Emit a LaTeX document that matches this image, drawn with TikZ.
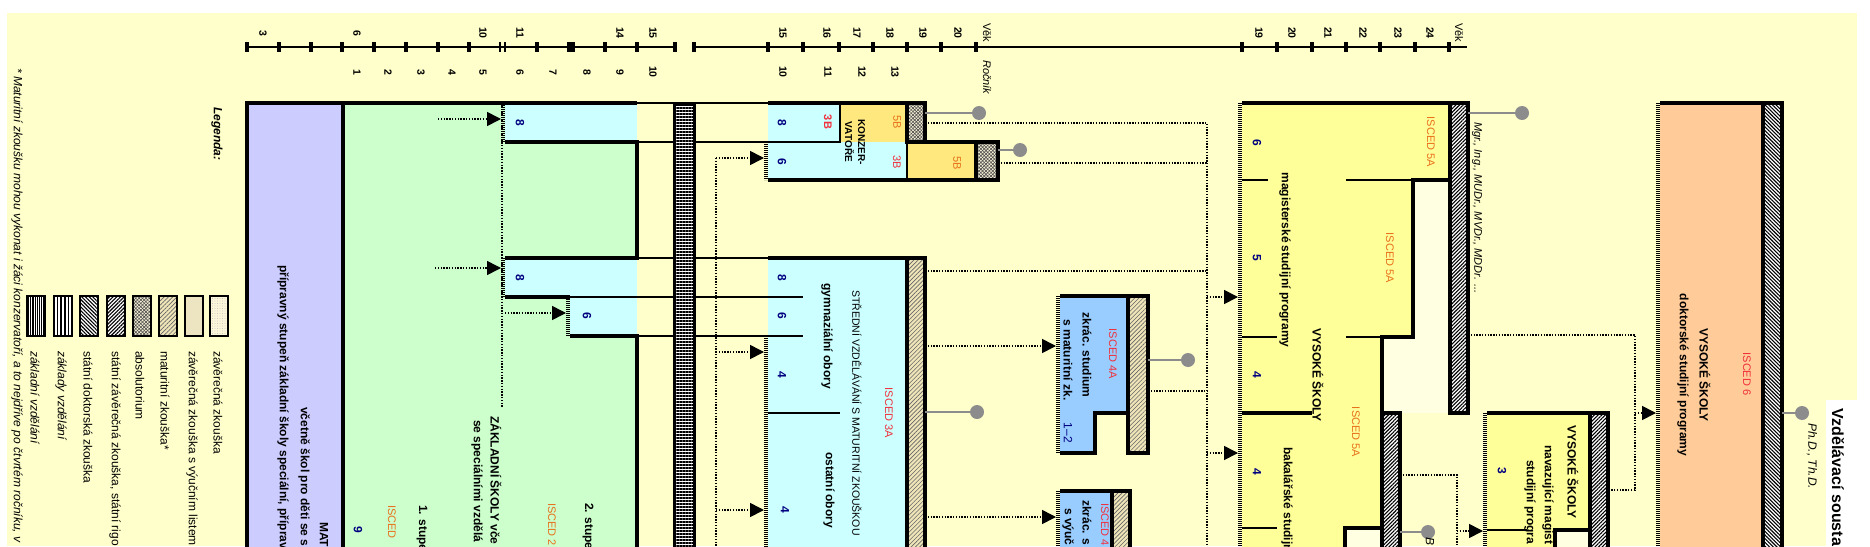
\documentclass[tikz,border=0pt]{standalone}
\usepackage{fontspec}
\setmainfont{Liberation Sans}
\usepackage{xcolor}
\definecolor{cBg}{HTML}{FFFFCC}
\definecolor{cMS}{HTML}{CCCCFF}
\definecolor{cZS}{HTML}{CCFFCC}
\definecolor{cSS}{HTML}{CCFFFF}
\definecolor{cVOS}{HTML}{99CCFF}
\definecolor{cKonz}{HTML}{FFE97F}
\definecolor{cVS}{HTML}{FFFF99}
\definecolor{cVSpale}{HTML}{FFFFE2}
\definecolor{cDok}{HTML}{FFCC99}
\definecolor{cPin}{HTML}{8C8C8C}
\definecolor{cNum}{HTML}{000080}
\definecolor{cRed}{HTML}{F0303C}
\definecolor{cOrange}{HTML}{E8701A}
\definecolor{cMatura}{HTML}{EFE5B8}
\definecolor{cZav}{HTML}{FBF5DA}
\definecolor{cVyuc}{HTML}{F6EDC6}
\usepackage{tikz}
\usetikzlibrary{arrows.meta,patterns.meta}
\tikzset{
  box-rule/.style={line width=3.4pt},
  lane-rule/.style={line width=1.1pt},
  comb-edge/.style={line width=3.2pt,dash pattern=on 0.6pt off 1.4pt},
  flow/.style={line width=1.6pt,dash pattern=on 1.4pt off 1.4pt},
  flow-arrow/.style={flow,-{Triangle[length=14pt,width=14pt]}},
  pin-line/.style={draw=cPin,line width=2.6pt},
  pin-dot/.style={circle,fill=cPin,minimum size=14pt,inner sep=0pt},
  framed/.style={postaction={draw,box-rule}},
  swatch-frame/.style={postaction={draw,line width=2pt}},
  hatch-zav/.style={fill=cZav,postaction={pattern color=black!30,pattern={Dots[distance=2.5pt,radius=0.35pt]}}},
  hatch-vyuc/.style={fill=cVyuc,postaction={pattern color=black!45,pattern={Dots[distance=2pt,radius=0.45pt]}}},
  hatch-matura/.style={fill=cMatura,postaction={pattern color=black!60,pattern={Lines[angle=45,distance=3pt,line width=0.6pt]}}},
  hatch-absol/.style={fill=cMatura!60,
    postaction={pattern color=black!70,pattern={Lines[angle=45,distance=2.4pt,line width=0.6pt]}},
    postaction={pattern color=black!70,pattern={Lines[angle=-45,distance=2.4pt,line width=0.6pt]}}},
  hatch-state/.style={fill=white,postaction={pattern color=black,pattern={Lines[angle=45,distance=2.6pt,line width=1.1pt]}}},
  hatch-doc/.style={fill=white,postaction={pattern color=black,pattern={Lines[angle=-45,distance=2.6pt,line width=1.1pt]}}},
  hatch-zaklady/.style={fill=white,postaction={pattern color=black,pattern={Lines[angle=90,distance=3.6pt,line width=1.5pt]}}},
  hatch-zakladni/.style={fill=white,postaction={pattern color=black,pattern={Lines[angle=90,distance=2.2pt,line width=1.1pt]}}},
  hatch-bar/.style={fill=white,postaction={pattern color=black,pattern={Lines[angle=0,distance=3pt,line width=1.5pt]}}},
  v-text/.style={rotate=-90,inner sep=0pt},
  v-bold/.style={v-text,font=\fontsize{12}{14}\selectfont\bfseries},
  v-start/.style={v-bold,anchor=west},
  v-num/.style={v-bold,text=cNum},
  v-isced/.style={v-text,font=\fontsize{11}{13}\selectfont},
  v-note/.style={v-text,anchor=west,font=\fontsize{12}{14}\selectfont\itshape},
  v-legend/.style={v-text,anchor=west,font=\fontsize{12}{14}\selectfont},
  axis-num/.style={v-text,font=\fontsize{10.5}{12}\selectfont\bfseries},
  axis-word/.style={v-text,anchor=west,font=\fontsize{11}{13}\selectfont},
  axis-tick/.style={line width=3.6pt},
}

\begin{document}
\begin{tikzpicture}[x=1pt,y=-1pt]
  \useasboundingbox (0,0) rectangle (1870,546);
  \clip (0,0) rectangle (1870,546);
  \fill[white] (0,0) rectangle (1870,546);
  \fill[cBg] (7,13) rectangle (1857,546);
  \fill[white] (1826,400) rectangle (1870,546);

  % --- fills ---
  \fill[cMS] (247,103) rectangle (343,560);
  \fill[cZS] (343,103) rectangle (637,560);
  \fill[cSS] (505,103) rectangle (637,142);
  \fill[cSS] (505,258) rectangle (637,297);
  \fill[cSS] (570,297) rectangle (637,336);
  \fill[cSS] (768,103) rectangle (840,142);
  \fill[cKonz] (840,103) rectangle (907,142);
  \fill[cSS] (768,142) rectangle (907,180);
  \fill[cKonz] (907,142) rectangle (976,180);
  \fill[cSS] (768,258) rectangle (907,560);
  \fill[cVOS] (1060,296) -- (1128,296) -- (1128,413) -- (1095,413) -- (1095,453) -- (1060,453) -- cycle;
  \fill[cVOS] (1060,491) rectangle (1112,560);
  \fill[cVSpale] (1242,103) rectangle (1450,413);
  \fill[cVS] (1242,103) -- (1450,103) -- (1450,180) -- (1413,180) -- (1413,337) -- (1382,337)
    -- (1382,528) -- (1345,528) -- (1345,560) -- (1242,560) -- cycle;
  \fill[cVSpale] (1345,528) rectangle (1382,560);
  \fill[cVS] (1487,413) rectangle (1590,560);
  \fill[cVSpale] (1555,530) rectangle (1590,560);
  \fill[cDok] (1660,103) rectangle (1763,560);

  % --- lane rules ---
  \draw[flow] (502,103) -- (502,407);
  \foreach \y in {103,142,258} \draw[lane-rule] (637,\y) -- (768,\y);
  \draw[lane-rule] (570,297) -- (803,297);
  \draw[lane-rule] (637,336) -- (803,336);
  \draw[lane-rule] (768,413) -- (840,413);
  \draw[lane-rule] (768,142) -- (840,142) -- (840,103) (907,142) -- (907,180);
  \draw[lane-rule] (1242,180) -- (1268,180) (1346,180) -- (1413,180)
    (1242,337) -- (1277,337) (1346,337) -- (1382,337) (1242,528) -- (1277,528);
  \draw[lane-rule] (1487,530) -- (1527,530);

  % --- základní vzdělání bar ---
  \path[hatch-bar,postaction={draw,line width=3pt}] (674,104) rectangle (694,560);

  % --- hatched ends ---
  \path[hatch-absol,framed] (907,103) rectangle (925,142);
  \path[hatch-absol,framed] (976,142) rectangle (998,180);
  \path[hatch-matura,framed] (907,258) rectangle (925,560);
  \path[hatch-matura,framed] (1128,296) rectangle (1148,453);
  \path[hatch-matura,framed] (1112,491) rectangle (1130,560);
  \path[hatch-state,framed] (1450,103) rectangle (1468,413);
  \path[hatch-state,framed] (1382,413) rectangle (1400,560);
  \path[hatch-state,framed] (1590,413) rectangle (1608,560);
  \path[hatch-doc,framed] (1763,103) rectangle (1782,560);

  % --- box outlines ---
  \draw[box-rule] (247,560) -- (247,103) -- (637,103);
  \draw[box-rule] (343,103) -- (343,560);
  \draw[box-rule] (505,142) -- (637,142) -- (637,258) -- (505,258);
  \draw[box-rule] (505,297) -- (570,297);
  \draw[box-rule] (570,336) -- (637,336) -- (637,560);
  \draw[box-rule] (768,103) -- (925,103) -- (925,142) -- (998,142) -- (998,180) -- (768,180);
  \draw[box-rule] (768,258) -- (907,258);
  \draw[box-rule] (1060,296) -- (1128,296) (1128,413) -- (1095,413) -- (1095,453) -- (1060,453);
  \draw[box-rule] (1060,491) -- (1112,491);
  \draw[box-rule] (1242,103) -- (1450,103);
  \draw[box-rule] (1450,180) -- (1413,180) -- (1413,337) -- (1382,337) -- (1382,413);
  \draw[box-rule] (1242,413) -- (1312,413);
  \draw[box-rule] (1382,528) -- (1345,528) -- (1345,560);
  \draw[box-rule] (1487,413) -- (1590,413);
  \draw[box-rule] (1590,530) -- (1555,530) -- (1555,560);
  \draw[box-rule] (1660,103) -- (1763,103);

  % --- entry edges ---
  \draw[comb-edge] (503,103) -- (503,142);
  \draw[comb-edge] (503,258) -- (503,297);
  \draw[comb-edge] (568,297) -- (568,336);
  \draw[comb-edge] (766,142) -- (766,180);
  \draw[comb-edge] (766,336) -- (766,560);
  \draw[comb-edge] (1058,296) -- (1058,453);
  \draw[comb-edge] (1058,491) -- (1058,560);
  \draw[comb-edge] (1240,103) -- (1240,560);
  \draw[comb-edge] (1485,413) -- (1485,560);
  \draw[comb-edge] (1658,103) -- (1658,560);

  % --- transitions ---
  \coordinate (zs-a) at (438,119);  \coordinate (gymA-in) at (501,119);
  \coordinate (zs-b) at (435,268);  \coordinate (gymB-in) at (501,268);
  \coordinate (zs-c) at (505,313);  \coordinate (gymC-in) at (566,313);
  \draw[flow-arrow] (zs-a) -- (gymA-in);
  \draw[flow-arrow] (zs-b) -- (gymB-in);
  \draw[flow-arrow] (zs-c) -- (gymC-in);

  \coordinate (spine-top) at (716,158); \coordinate (spine-bot) at (716,560);
  \coordinate (konzB-in) at (764,158);
  \coordinate (spine-g) at (716,352); \coordinate (ssG-in) at (764,352);
  \coordinate (spine-o) at (716,510); \coordinate (ssO-in) at (764,510);
  \draw[flow] (spine-top) -- (spine-bot);
  \draw[flow-arrow] (spine-top) -- (konzB-in);
  \draw[flow-arrow] (spine-g) -- (ssG-in);
  \draw[flow-arrow] (spine-o) -- (ssO-in);

  \coordinate (konzA-out) at (925,123); \coordinate (col-a) at (1207,123);
  \coordinate (konzB-out) at (998,163); \coordinate (col-b) at (1207,163);
  \coordinate (ss-out) at (925,271);    \coordinate (col-c) at (1207,271);
  \coordinate (vosA-out) at (1148,391); \coordinate (col-d) at (1207,391);
  \coordinate (col-m) at (1207,297);    \coordinate (vsM-in) at (1238,297);
  \coordinate (col-bc) at (1207,453);   \coordinate (vsB-in) at (1238,453);
  \coordinate (col-bot) at (1207,560);
  \draw[flow] (konzA-out) -- (col-a) -- (col-bot);
  \draw[flow] (konzB-out) -- (col-b);
  \draw[flow] (ss-out) -- (col-c);
  \draw[flow] (vosA-out) -- (col-d);
  \draw[flow-arrow] (col-m) -- (vsM-in);
  \draw[flow-arrow] (col-bc) -- (vsB-in);

  \coordinate (ss-outA) at (925,346); \coordinate (vosA-in) at (1056,346);
  \coordinate (ss-outB) at (925,517); \coordinate (vosB-in) at (1056,517);
  \draw[flow-arrow] (ss-outA) -- (vosA-in);
  \draw[flow-arrow] (ss-outB) -- (vosB-in);

  \coordinate (vsM-out) at (1468,335); \coordinate (dk-a) at (1635,335);
  \coordinate (dk-b) at (1635,490);    \coordinate (nav-out) at (1608,490);
  \coordinate (dk-pt) at (1635,413);   \coordinate (dok-in) at (1656,413);
  \draw[flow] (vsM-out) -- (dk-a) -- (dk-b) -- (nav-out);
  \draw[flow-arrow] (dk-pt) -- (dok-in);

  \coordinate (vsB-out) at (1400,475); \coordinate (nv-a) at (1457,475);
  \coordinate (nv-bot) at (1457,560);  \coordinate (nv-pt) at (1457,531);
  \coordinate (nav-in) at (1483,531);
  \draw[flow] (vsB-out) -- (nv-a) -- (nv-bot);
  \draw[flow-arrow] (nv-pt) -- (nav-in);

  % --- graduation pins ---
  \coordinate (konzA-end) at (925,113);  \node[pin-dot] (pin-konzA) at (979,113) {};
  \coordinate (konzB-end) at (998,150);  \node[pin-dot] (pin-konzB) at (1020,150) {};
  \coordinate (ss-end) at (925,412);     \node[pin-dot] (pin-ss) at (977,412) {};
  \coordinate (vosA-end) at (1148,360);  \node[pin-dot] (pin-vosA) at (1188,360) {};
  \coordinate (vsM-end) at (1468,113);   \node[pin-dot] (pin-vsM) at (1522,113) {};
  \coordinate (vsB-end) at (1400,532);   \node[pin-dot] (pin-vsB) at (1428,532) {};
  \coordinate (dok-end) at (1782,413);   \node[pin-dot] (pin-dok) at (1802,413) {};
  \draw[pin-line] (konzA-end) -- (pin-konzA);
  \draw[pin-line] (konzB-end) -- (pin-konzB);
  \draw[pin-line] (ss-end) -- (pin-ss);
  \draw[pin-line] (vosA-end) -- (pin-vosA);
  \draw[pin-line] (vsM-end) -- (pin-vsM);
  \draw[pin-line] (vsB-end) -- (pin-vsB);
  \draw[pin-line] (dok-end) -- (pin-dok);

  % --- age / grade axis ---
  \draw[line width=1.2pt] (247,47) -- (675,47);
  \draw[line width=1.2pt] (694,47) -- (1467,47);
  \foreach \x in {247,279,311,342,374,406,438,469,537,605,637,675,694,768,803,839,873,907,941,976,
                  1242,1277,1312,1346,1380,1415,1449}
    \draw[axis-tick] (\x,42) -- (\x,52);
  \draw[line width=2pt] (499.5,42) -- (499.5,52) (504.5,42) -- (504.5,52);
  \draw[line width=8pt] (571,42) -- (571,52);
  \foreach \x/\n [count=\i] in {263/3,357/6,483/10,520/11,620/14,653/15,783/15,827/16,857/17,890/18,
                                923/19,958/20,1259/19,1292/20,1328/21,1363/22,1398/23,1430/24}
    \node[axis-num] (age-\i) at (\x,33) {\n};
  \foreach \x/\n [count=\i] in {357/1,388/2,421/3,452/4,483/5,520/6,553/7,587/8,620/9,653/10,
                                783/10,828/11,862/12,895/13}
    \node[axis-num] (grade-\i) at (\x,72) {\n};
  \node[axis-word] (vek-a) at (987,23) {Věk};
  \node[axis-word,font=\fontsize{11}{13}\selectfont\itshape] (rocnik) at (987,60) {Ročník};
  \node[axis-word] (vek-b) at (1459,23) {Věk};

  % --- mateřská a základní škola ---
  \node[v-start] (ms-a) at (324,522) {MAT};
  \node[v-start] (ms-b) at (304,407) {včetně škol pro děti se s};
  \node[v-start] (ms-c) at (283,265) {přípravný stupeň základní školy speciální, příprav};
  \node[v-start] (zs-title) at (496,416) {ZÁKLADNÍ ŠKOLY vče};
  \node[v-start] (zs-sub) at (477,420) {se speciálními vzdělá};
  \node[v-start] (zs-2) at (588,503) {2. stupe};
  \node[v-isced,anchor=west,text=cOrange] (isced-2) at (552,503) {ISCED 2};
  \node[v-start] (zs-1) at (422,505) {1. stupe};
  \node[v-isced,anchor=west,text=cOrange] (isced-1) at (392,505) {ISCED};
  \node[v-num] (zs-n) at (358,530) {9};
  \node[v-num] (gymA-n) at (520,123) {8};
  \node[v-num] (gymB-n) at (520,278) {8};
  \node[v-num] (gymC-n) at (587,316) {6};

  % --- konzervatoře ---
  \node[v-num] (konzA-n) at (782,123) {8};
  \node[v-num] (konzB-n) at (782,162) {6};
  \node[v-isced,font=\fontsize{11}{13}\selectfont\bfseries,text=cRed] (konzA-3b) at (828,122) {3B};
  \node[v-isced,text=cOrange] (konzA-5b) at (897,122) {5B};
  \node[v-isced,text=cRed] (konzB-3b) at (897,162) {3B};
  \node[v-isced,text=cOrange] (konzB-5b) at (957,163) {5B};
  \node[v-bold,align=center,font=\fontsize{10}{13}\selectfont\bfseries] (konz) at (855,142) {KONZER-\\VATOŘE};

  % --- střední vzdělávání ---
  \node[v-num] (ss-8) at (782,278) {8};
  \node[v-num] (ss-6) at (782,316) {6};
  \node[v-num] (ss-4a) at (782,375) {4};
  \node[v-num] (ss-4b) at (785,510) {4};
  \node[v-bold] (ss-gym) at (827,336) {gymnaziální obory};
  \node[v-bold] (ss-ost) at (829,490) {ostatní obory};
  \node[v-text,font=\fontsize{10.5}{12}\selectfont] (ss-title) at (857,413) {STŘEDNÍ VZDĚLÁVÁNÍ S MATURITNÍ ZKOUŠKOU};
  \node[v-isced,text=cRed] (isced-3a) at (889,413) {ISCED 3A};

  % --- nástavbové studium ---
  \node[v-isced,text=cRed] (isced-4a) at (1113,354) {ISCED 4A};
  \node[v-bold] (vosA-a) at (1087,355) {zkrác. studium};
  \node[v-bold] (vosA-b) at (1068,360) {s maturitní zk.};
  \node[v-text,font=\fontsize{12}{14}\selectfont,text=cNum] (vosA-n) at (1068,433) {1–2};
  \node[v-isced,anchor=west,text=cRed] (isced-4b) at (1105,503) {ISCED 4};
  \node[v-start] (vosB-a) at (1087,500) {zkrác. s};
  \node[v-start] (vosB-b) at (1068,508) {s výuč};

  % --- vysoké školy ---
  \node[v-isced,text=cOrange] (isced-5a-a) at (1431,142) {ISCED 5A};
  \node[v-isced,text=cOrange] (isced-5a-b) at (1390,258) {ISCED 5A};
  \node[v-isced,text=cOrange] (isced-5a-c) at (1356,432) {ISCED 5A};
  \node[v-num] (vs-6) at (1257,143) {6};
  \node[v-num] (vs-5) at (1257,258) {5};
  \node[v-num] (vs-4) at (1257,375) {4};
  \node[v-num] (bc-4) at (1257,472) {4};
  \node[v-bold] (vs-mag) at (1285,260) {magisterské studijní programy};
  \node[v-bold] (vs-title) at (1318,375) {VYSOKÉ ŠKOLY};
  \node[v-start] (vs-bc) at (1287,447) {bakalářské studijní};
  \node[v-text,anchor=west,font=\fontsize{11}{13}\selectfont\itshape] (vs-deg) at (1477,122) {Mgr., Ing., MUDr., MVDr., MDDr. ...};
  \node[v-note] (bc-deg) at (1430,537) {B};
  \node[v-bold] (nav-title) at (1573,472) {VYSOKÉ ŠKOLY};
  \node[v-start] (nav-a) at (1548,445) {navazující magist};
  \node[v-start] (nav-b) at (1530,460) {studijní progra};
  \node[v-num] (nav-3) at (1502,471) {3};
  \node[v-isced,text=cRed] (isced-6) at (1747,374) {ISCED 6};
  \node[v-bold] (dok-title) at (1705,375) {VYSOKÉ ŠKOLY};
  \node[v-bold] (dok-sub) at (1683,375) {doktorské studijní programy};
  \node[v-note] (dok-deg) at (1812,423) {Ph.D., Th.D.};
  \node[v-text,anchor=west,font=\fontsize{16}{18}\selectfont\bfseries] (title) at (1838,408) {Vzdělávací sousta};

  % --- legend ---
  \node[v-note] (footnote) at (17,68) {* Maturitní zkoušku mohou vykonat i žáci konzervatoří, a to nejdříve po čtvrtém ročníku, v};
  \node[v-text,anchor=west,font=\fontsize{12}{14}\selectfont\bfseries\itshape] (legend) at (217,107) {Legenda:};
  \path[hatch-zav,swatch-frame] (210,296) rectangle (228,336);
  \path[hatch-vyuc,swatch-frame] (185,296) rectangle (203,336);
  \path[hatch-matura,swatch-frame] (159,296) rectangle (177,336);
  \path[hatch-absol,swatch-frame] (133,296) rectangle (151,336);
  \path[hatch-state,swatch-frame] (107,296) rectangle (125,336);
  \path[hatch-doc,swatch-frame] (80,296) rectangle (98,336);
  \path[hatch-zaklady,swatch-frame] (54,296) rectangle (72,336);
  \path[hatch-zakladni,swatch-frame] (27,296) rectangle (45,336);
  \foreach \x/\t [count=\i] in {218/{závěrečná zkouška},192/{závěrečná zkouška s výučním listem},
      165/{maturitní zkouška*},140/{absolutorium},115/{státní závěrečná zkouška, státní rigo},
      88/{státní doktorská zkouška},61/{\itshape základy vzdělání},35/{\itshape základní vzdělání}}
    \node[v-legend] (leg-\i) at (\x,351) {\t};
\end{tikzpicture}
\end{document}
